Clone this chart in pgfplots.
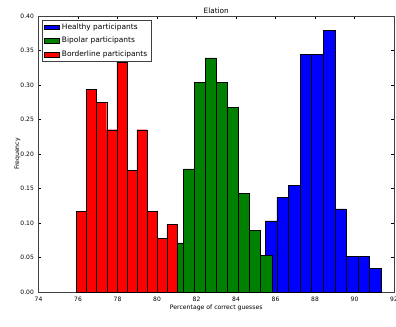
\documentclass[border=0pt]{standalone}
\usepackage{fontspec}
\setmainfont{DejaVu Sans}
\usepackage{pgfplots}
\pgfplotsset{compat=1.18}
\usetikzlibrary{calc}
\definecolor{mblue}{RGB}{0,0,255}
\definecolor{mgreen}{RGB}{0,128,0}
\definecolor{mred}{RGB}{255,0,0}
\begin{document}
\begin{tikzpicture}
\begin{axis}[name=ax,
  scale only axis, width=266.6pt, height=207.2pt,
  xmin=74, xmax=92, ymin=0, ymax=0.4,
  xtick={74,76,78,80,82,84,86,88,90,92},
  ytick={0,0.05,0.10,0.15,0.20,0.25,0.30,0.35,0.40},
  yticklabel style={/pgf/number format/.cd, fixed, fixed zerofill, precision=2},
  /pgf/number format/assume math mode=true,
  tick label style={font=\fontsize{4.5}{5.2}\selectfont},
  xticklabel style={yshift=0pt},
  major tick length=2.2pt,
  tick style={line width=0.4pt, black},
  axis line style={line width=0.6pt, black!75},
  title={Elation},
  every axis title shift=0pt,
  title style={font=\fontsize{5.5}{6.6}\selectfont, at={(axis description cs:0.5,1.0075)}, anchor=base, inner sep=0pt},
  xlabel={Percentage of correct guesses},
  ylabel={Frequency},
  label style={font=\fontsize{4.6}{5.5}\selectfont},
  xlabel style={at={(axis description cs:0.5,-0.064)}, anchor=base, inner sep=0pt},
  ylabel style={at={(axis description cs:-0.059,0.5)}, anchor=center, inner sep=0pt},
  legend style={at={(0.009,0.9855)}, anchor=north west, draw=black!75, line width=0.5pt,
    font=\fontsize{5.6}{6.7}\selectfont, inner xsep=1.5pt, inner ysep=1.2pt,
    nodes={inner ysep=1.2pt, inner xsep=1.8pt}, row sep=2pt},
  legend cell align=left,
]
\addplot[ybar interval, fill=mblue, draw=black, line width=0.35pt,
  legend image code/.code={\draw[fill=mblue, draw=black, line width=0.35pt] (0pt,-1.75pt) rectangle (11.25pt,1.75pt);}]
  coordinates {(85.49,0.1034) (86.075,0.1379) (86.66,0.1552) (87.245,0.3448) (87.83,0.3448) (88.415,0.3793) (89.00,0.1207) (89.585,0.0517) (90.17,0.0517) (90.755,0.0345) (91.34,0.0345)};
\addlegendentry{Healthy participants}
\addplot[ybar interval, fill=mgreen, draw=black, line width=0.35pt,
  legend image code/.code={\draw[fill=mgreen, draw=black, line width=0.35pt] (0pt,-1.75pt) rectangle (11.25pt,1.75pt);}]
  coordinates {(80.21,0.0357) (80.77,0.0714) (81.33,0.1786) (81.89,0.3036) (82.45,0.3393) (83.01,0.3036) (83.57,0.2679) (84.13,0.1429) (84.69,0.0893) (85.25,0.0536) (85.81,0.0536)};
\addlegendentry{Bipolar participants}
\addplot[ybar interval, fill=mred, draw=black, line width=0.35pt,
  legend image code/.code={\draw[fill=mred, draw=black, line width=0.35pt] (0pt,-1.75pt) rectangle (11.25pt,1.75pt);}]
  coordinates {(75.93,0.1176) (76.438,0.2941) (76.946,0.2745) (77.454,0.2353) (77.962,0.3333) (78.47,0.1765) (78.978,0.2353) (79.486,0.1176) (79.994,0.0784) (80.502,0.0980) (81.01,0.0980)};
\addlegendentry{Borderline participants}
\end{axis}
\pgfresetboundingbox
\useasboundingbox ($(ax.south west)+(-28.9pt,-26pt)$) rectangle ($(ax.north east)+(1.5pt,12pt)$);
\end{tikzpicture}
\end{document}
